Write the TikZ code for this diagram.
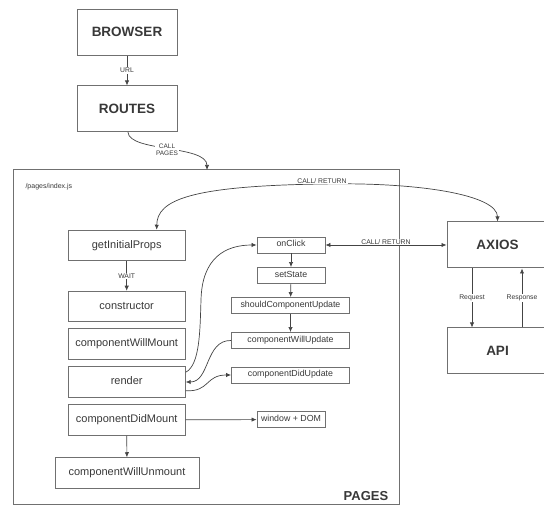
\documentclass[tikz,border=0pt]{standalone}
\usepackage{fontspec}
\setmainfont{Liberation Sans}
\usetikzlibrary{arrows.meta,calc}
\definecolor{bordc}{HTML}{707070}
\definecolor{txtc}{HTML}{383838}
\definecolor{linec}{HTML}{444444}
\begin{document}
\begin{tikzpicture}[x=1pt,y=-1pt,
  bigbox/.style={draw=bordc, line width=1pt, text=txtc, font=\bfseries\fontsize{13.5}{16}\selectfont, inner sep=0pt, minimum width=100pt, minimum height=45.7pt},
  midbox/.style={draw=bordc, line width=1pt, text=txtc, font=\fontsize{11}{13}\selectfont, inner sep=0pt, minimum width=117pt, minimum height=30.5pt, text height=7.6pt, text depth=2.4pt},
  smallbox/.style={draw=bordc, line width=0.9pt, text=txtc, font=\fontsize{8.8}{10}\selectfont, inner sep=0pt, minimum height=16pt, text height=5.6pt, text depth=2.3pt},
  lbl/.style={font=\fontsize{6.8}{7.6}\selectfont, text=txtc, fill=white, inner sep=1pt},
  conn/.style={draw=linec, line width=0.7pt, -{Latex[length=5pt,width=4.4pt]}},
  biconn/.style={draw=linec, line width=0.7pt, {Latex[length=5pt,width=4.4pt]}-{Latex[length=5pt,width=4.4pt]}}
]
\useasboundingbox (0,0) rectangle (544,510);

% top boxes
\node[bigbox] (browser) at (127,32.3) {BROWSER};
\node[bigbox] (routes) at (127,108.8) {ROUTES};

% pages container
\node[draw=bordc, line width=1pt, minimum width=386pt, minimum height=335pt, inner sep=0pt] (pages) at (206,337.5) {};
\node[anchor=west, font=\fontsize{7}{8}\selectfont, text=txtc] (idx) at (22,187) {/pages/index.js};
\node[font=\bfseries\fontsize{13}{15}\selectfont, text=txtc] (pagestitle) at (366,496) {PAGES};
\coordinate (pagesin) at (207,170);

% lifecycle column
\node[midbox] (gip) at (126.7,245.5) {getInitialProps};
\node[midbox] (ctor) at (126.7,306.5) {constructor};
\node[midbox] (cwm) at (126.7,344) {componentWillMount};
\node[midbox] (render) at (126.7,382) {render};
\node[midbox] (cdm) at (126.7,420) {componentDidMount};
\node[midbox, minimum width=144pt] (cwu) at (127,473) {componentWillUnmount};

% update column
\node[smallbox, minimum width=68pt] (onclick) at (291,245) {onClick};
\node[smallbox, minimum width=68pt] (setstate) at (291,275.5) {setState};
\node[smallbox, minimum width=118pt] (scu) at (290.5,305.5) {shouldComponentUpdate};
\node[smallbox, minimum width=118pt] (cwup) at (290.5,340.5) {componentWillUpdate};
\node[smallbox, minimum width=118pt] (cdup) at (290.5,375) {componentDidUpdate};
\node[smallbox, minimum width=68pt] (win) at (291,419.5) {window + DOM};

% axios / api
\node[bigbox, minimum width=101pt, minimum height=46pt] (axios) at (497.5,245) {AXIOS};
\node[bigbox, minimum width=101pt, minimum height=46pt] (api) at (497.5,351) {API};

% connectors
\draw[conn] (browser) -- node[lbl]{URL} (routes);
\draw[conn] ($(routes.south)+(1,0)$) .. controls (129,152) and (207,145) .. (pagesin);
\node[lbl, align=center, font=\fontsize{6.5}{7.5}\selectfont] (callpages) at (167,150) {CALL\\PAGES};

\draw[conn] (gip) -- node[lbl]{WAIT} (ctor);
\draw[conn] (cdm) -- (cwu);
\draw[conn] (cdm) -- (win);

\draw[conn] (onclick) -- (setstate);
\draw[conn] (setstate) -- (scu);
\draw[conn] (scu) -- (cwup);

\draw[conn] ($(render.north east)+(0,6)$) .. controls (200,365) and (200,330) .. (201,300)
   .. controls (202,258) and (225,245) .. (onclick.west);
\draw[conn] (cwup.west) .. controls (205,340) and (210,382) .. (render.east);
\draw[conn] ($(render.south east)+(0,-7)$) .. controls (210,392) and (205,375) .. (cdup.west);

\draw[biconn] ($(gip.north)+(30,0)$) .. controls (157,200) and (190,186) .. (322,184)
   .. controls (420,182) and (497.5,195) .. (axios.north);
\node[lbl] (cr1) at (322,181) {CALL/ RETURN};

\draw[biconn] (onclick.east) -- node[lbl, yshift=3pt]{CALL/ RETURN} (axios.west);

\draw[conn] ($(axios.south)+(-25.5,0)$) -- node[lbl]{Request} ($(api.north)+(-25.5,0)$);
\draw[conn] ($(api.north)+(24.5,0)$) -- node[lbl]{Response} ($(axios.south)+(24.5,0)$);
\end{tikzpicture}
\end{document}
